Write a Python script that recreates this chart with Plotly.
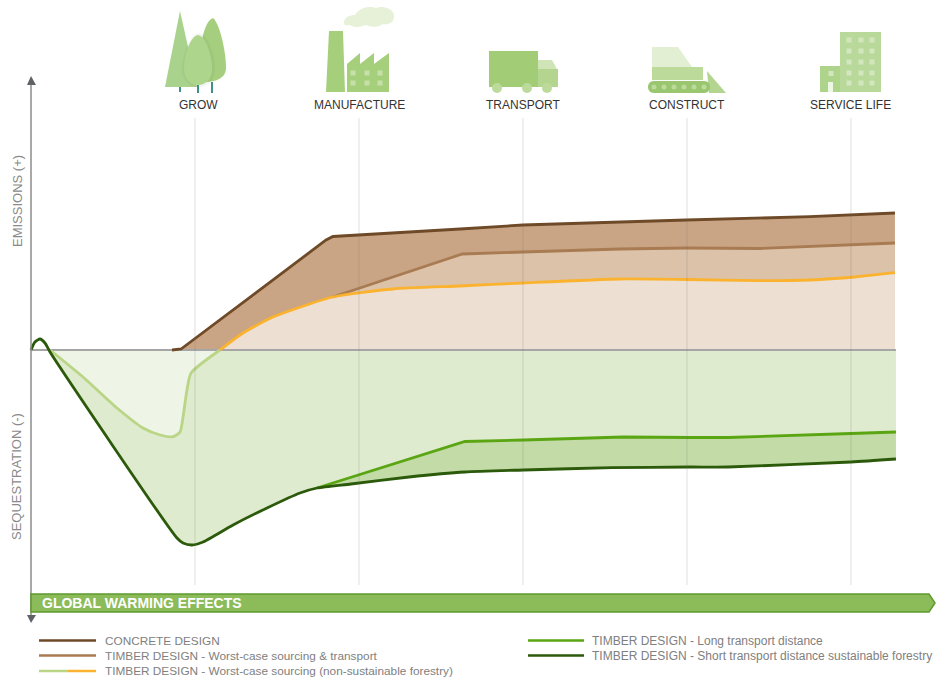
import plotly.graph_objects as go

W = 948
H = 680

# x is position along the life cycle (GROW = 1 ... SERVICE LIFE = 5), y is net emissions
stages = ["GROW", "MANUFACTURE", "TRANSPORT", "CONSTRUCT", "SERVICE LIFE"]
stage_pos = [1, 2, 3, 4, 5]
label_x = [198, 359, 523, 687, 850]

concrete_x = [0.86, 0.915, 1.799, 1.841, 2.616, 3.0, 3.994, 4.75, 5.268]
concrete_y = [0, 0.01, 1.10, 1.135, 1.21, 1.25, 1.30, 1.333, 1.37]

worst_transport_x = [1.84, 2.555, 2.63, 3.0, 3.59, 3.994, 4.445, 5.268]
worst_transport_y = [0.53, 0.92, 0.96, 0.98, 1.01, 1.02, 1.015, 1.07]

worst_pos_x = [1.152, 1.293, 1.476, 1.841, 2.207, 2.616, 3.0, 3.591, 3.994, 4.445, 4.75, 5.024, 5.268]
worst_pos_y = [0, 0.17, 0.33, 0.53, 0.61, 0.64, 0.67, 0.71, 0.705, 0.693, 0.70, 0.73, 0.773]

worst_neg_x = [0.116, 0.317, 0.524, 0.683, 0.787, 0.866, 0.909, 0.927, 0.951, 0.976, 1.152]
worst_neg_y = [0, -0.27, -0.58, -0.78, -0.85, -0.867, -0.82, -0.67, -0.40, -0.23, 0]

long_x = [1.744, 2.646, 3.006, 3.61, 4.018, 4.25, 5.0, 5.274]
long_y = [-1.38, -0.915, -0.90, -0.87, -0.875, -0.875, -0.835, -0.82]

short_x = [0, 0.024, 0.055, 0.085, 0.116, 0.89, 0.927, 0.982, 1.049, 1.232, 1.439, 1.64, 1.744,
           1.951, 2.305, 2.646, 3.006, 3.543, 4.018, 4.25, 5.0, 5.274]
short_y = [0, 0.08, 0.11, 0.07, -0.02, -1.88, -1.93, -1.95, -1.92, -1.75, -1.58, -1.43, -1.38,
           -1.34, -1.27, -1.22, -1.20, -1.177, -1.17, -1.17, -1.12, -1.09]

legend_left = ["CONCRETE DESIGN",
               "TIMBER DESIGN - Worst-case sourcing & transport",
               "TIMBER DESIGN - Worst-case sourcing (non-sustainable forestry)"]
legend_right = ["TIMBER DESIGN - Long transport distance",
                "TIMBER DESIGN - Short transport distance sustainable forestry"]

BROWN_DARK = "#6e4a28"
BROWN = "#a87b52"
YELLOW = "#fbb22e"
GREEN_LIGHT = "#b9d585"
GREEN = "#5aa512"
GREEN_DARK = "#2c5a0b"
FONT = "Liberation Sans"


def fx(px):
    return px / W


def fy(py):
    return 1 - py / H


def px_path(d):
    # turns an svg path written in pixels into paper coordinates
    out = []
    is_x = True
    for t in d.split():
        if t[0].isalpha():
            out.append(t)
        else:
            out.append(f"{fx(float(t)):.5f}" if is_x else f"{fy(float(t)):.5f}")
            is_x = not is_x
    return " ".join(out)


shapes = []


def path(d, color, line=None, width=0):
    shapes.append(dict(type="path", xref="paper", yref="paper", path=px_path(d), fillcolor=color,
                       line=dict(color=line or color, width=width), layer="above"))


def rect(x0, y0, x1, y1, color):
    path(f"M {x0} {y0} L {x1} {y0} L {x1} {y1} L {x0} {y1} Z", color)


def circle(cx, cy, r, color):
    shapes.append(dict(type="circle", xref="paper", yref="paper", x0=fx(cx - r), x1=fx(cx + r),
                       y0=fy(cy + r), y1=fy(cy - r), fillcolor=color, line=dict(width=0), layer="above"))


def seg(x0, y0, x1, y1, color, width):
    shapes.append(dict(type="line", xref="paper", yref="paper", x0=fx(x0), x1=fx(x1), y0=fy(y0), y1=fy(y1),
                       line=dict(color=color, width=width), layer="above"))


def fill_area(x, y, color, smooth=False):
    line = dict(width=0, shape="spline", smoothing=0.6) if smooth else dict(width=0)
    return go.Scatter(x=x, y=y, mode="lines", line=line, fill="tozeroy", fillcolor=color,
                      hoverinfo="skip", showlegend=False)


def curve(x, y, color, width=2.8, smooth=False):
    line = dict(color=color, width=width)
    if smooth:
        line.update(shape="spline", smoothing=0.6)
    return go.Scatter(x=x, y=y, mode="lines", line=line, hoverinfo="skip", showlegend=False)


fig = go.Figure()

# fills are opaque and painted from back to front
fig.add_trace(fill_area(concrete_x, concrete_y, "#c9a585"))
fig.add_trace(fill_area(worst_transport_x, worst_transport_y, "#dcc2a8"))
fig.add_trace(fill_area(worst_pos_x, worst_pos_y, "#eddfd1", smooth=True))
fig.add_trace(fill_area(short_x[4:], short_y[4:], "#dfebcf", smooth=True))
fig.add_trace(go.Scatter(x=short_x[12:], y=short_y[12:], mode="lines", line=dict(width=0, shape="spline", smoothing=0.6),
                         hoverinfo="skip", showlegend=False))
fig.add_trace(go.Scatter(x=long_x, y=long_y, mode="lines", line=dict(width=0), fill="tonexty", fillcolor="#c3dba6",
                         hoverinfo="skip", showlegend=False))
fig.add_trace(fill_area(worst_neg_x, worst_neg_y, "#eef4e6", smooth=True))

# zero line
fig.add_trace(curve([0, short_x[-1]], [0, 0], "#a6a6a6", 2))

fig.add_trace(curve(worst_neg_x, worst_neg_y, GREEN_LIGHT, smooth=True))
fig.add_trace(curve(worst_transport_x, worst_transport_y, BROWN))
fig.add_trace(curve(worst_pos_x, worst_pos_y, YELLOW, smooth=True))
fig.add_trace(curve(concrete_x, concrete_y, BROWN_DARK))
fig.add_trace(curve(long_x, long_y, GREEN))
fig.add_trace(curve(short_x, short_y, GREEN_DARK, smooth=True))

# stage guides
for p in stage_pos:
    shapes.append(dict(type="line", xref="x", yref="paper", x0=p, x1=p, y0=fy(118), y1=fy(585),
                       line=dict(color="rgba(110,110,110,0.22)", width=1), layer="above"))

# vertical axis with arrows
seg(31, 82, 31, 616, "#8c8c8c", 1.5)
path("M 31 76 L 36 85 L 27 85 Z", "#5f6368")
path("M 27 615 L 36 615 L 31 623 Z", "#5f6368")

# global warming bar
path("M 31 594 L 929 594 L 935 603 L 929 612 L 31 612 Z", "#8cbb5a", "#5f9a2e", 1.5)

# trees
path("M 180 11 L 197 87 L 165 87 Z", "#a9d28d")
path("M 213 18 C 207 20 203 32 201 45 L 205 82 C 216 82 226 78 226 68 C 226 52 220 24 213 18 Z", "#a5cf7f")
rect(179, 87, 181, 92, "#3f8f8c")
rect(197, 85, 199, 93, "#3f8f8c")
rect(211, 82, 213, 93, "#3f8f8c")
path("M 199 33 C 208 34 215 56 215 68 C 215 82 207 87 199 87 C 191 87 182 82 182 68 C 182 56 190 34 199 33 Z",
     "rgba(80,100,60,0.07)")
path("M 198 35 C 206 36 212 56 212 68 C 212 80 205 85 198 85 C 191 85 184 80 184 68 C 184 56 190 36 198 35 Z", "#aed58c")

# factory
path("M 329 31 L 343 31 L 345 92 L 326 92 Z", "#a6cf7c")
path("M 347 64 L 360 53 L 360 64 L 374 53 L 374 64 L 389 53 L 389 92 L 347 92 Z", "#a6cf7c")
for wx in [353, 367, 380]:
    for wy in [73, 83]:
        rect(wx - 2.5, wy - 2.5, wx + 2.5, wy + 2.5, "#c6e0a9")
path("M 344 22 C 345 17 350 15 355 15 C 358 9 368 5 376 8 C 384 5 394 9 394 16 C 394 23 388 25 383 24 "
     "C 378 28 370 27 366 25 C 358 28 352 27 350 25 C 347 26 343 25 344 22 Z", "#e6f1d8")

# truck
rect(489, 51, 538, 87, "#a3cc76")
path("M 538 60 L 552 60 L 558 71 L 538 71 Z", "#cfe5b7")
path("M 538 69 L 558 69 L 558 87 L 538 87 Z", "#b3d58f")
for wx in [497, 527, 547]:
    circle(wx, 88, 5, "#bcdb9b")

# bulldozer
path("M 652 47 L 678 47 L 692 67 L 652 67 Z", "#e3efd3")
rect(652, 67, 703, 80, "#bcdb9b")
path("M 707 71 L 726 93 L 709 93 Z", "#b3d58f")
path("M 654 81 L 704 81 C 712 81 712 93 704 93 L 654 93 C 646 93 646 81 654 81 Z", "#9ac66f")
for wx in [654, 664, 674, 684, 694, 704]:
    circle(wx, 87, 2.5, "#bcdb9b")

# building
rect(840, 32, 881, 92, "#b8d99a")
rect(820, 66, 840, 92, "#aed48b")
for wx in [849, 861, 872]:
    for wy in [40, 51, 62, 73, 83]:
        rect(wx - 2.5, wy - 2.5, wx + 2.5, wy + 2.5, "#d3e7bf")
rect(828.5, 71, 833.5, 76, "#d3e7bf")
rect(828, 82, 833, 92, "#eef6e4")

# legend lines
seg(39, 640.5, 96, 640.5, BROWN_DARK, 2.5)
seg(39, 655.5, 96, 655.5, BROWN, 2.5)
seg(39, 671, 68, 671, GREEN_LIGHT, 2.5)
seg(68, 671, 96, 671, YELLOW, 2.5)
seg(528, 640.5, 584, 640.5, GREEN, 2.5)
seg(528, 655.5, 584, 655.5, GREEN_DARK, 2.5)

annotations = []


def label(text, px, py, size, color, anchor="left", angle=0, bold=False):
    annotations.append(dict(text=f"<b>{text}</b>" if bold else text, xref="paper", yref="paper", x=fx(px), y=fy(py),
                            xanchor=anchor, yanchor="middle", showarrow=False, textangle=angle,
                            font=dict(family=FONT, size=size, color=color)))


for name, lx in zip(stages, label_x):
    label(name, lx, 105, 12, "#333333", "center")

label("EMISSIONS (+)", 17, 201, 13, "#8a8a8a", "center", -90)
label("SEQUESTRATION (-)", 17, 477, 13, "#8a8a8a", "center", -90)
label("GLOBAL WARMING EFFECTS", 40, 603, 14, "#ffffff", bold=True)

for name, py in zip(legend_left, [640.5, 655.5, 671]):
    label(name, 103, py, 11.8, "#808080")
for name, py in zip(legend_right, [640.5, 655.5]):
    label(name, 590, py, 12, "#808080")

fig.update_layout(
    width=W,
    height=H,
    margin=dict(l=0, r=0, t=0, b=0),
    paper_bgcolor="white",
    plot_bgcolor="white",
    xaxis=dict(visible=False, range=[-31 / 164, (W - 31) / 164], fixedrange=True),
    yaxis=dict(visible=False, range=[-3.3, 3.5], fixedrange=True),
    shapes=shapes,
    annotations=annotations,
)

fig.write_html("out.html", config={"displayModeBar": False}, post_script="document.body.style.margin='0';")
